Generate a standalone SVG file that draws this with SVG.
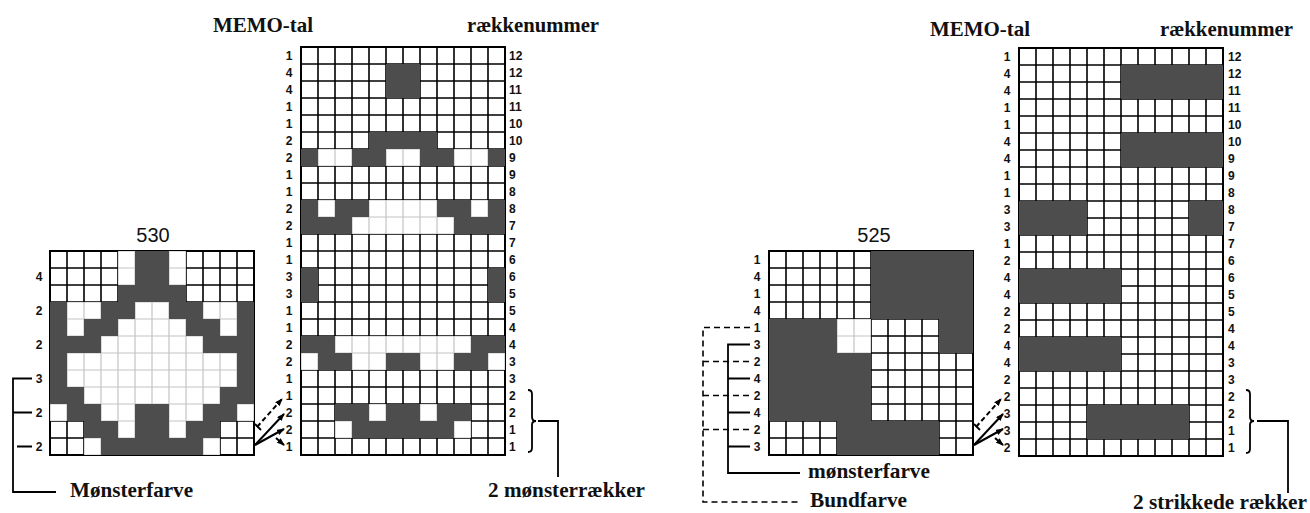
<svg xmlns="http://www.w3.org/2000/svg" width="1310" height="513" viewBox="0 0 1310 513">
<style>
.t{font-family:"Liberation Serif","Times New Roman",serif;font-weight:bold;font-size:21px;fill:#111}
.n{font-family:"Liberation Sans",Arial,sans-serif;font-weight:bold;font-size:12px;fill:#111}
.h{font-family:"Liberation Sans",Arial,sans-serif;font-size:20px;fill:#111}
.dk{fill:#4d4d4d}
.gk{fill:url(#gk)}
.gl{fill:url(#gl)}
.bd{fill:none;stroke:#000;stroke-width:2}
.ln{fill:none;stroke:#000;stroke-width:1.8}
.ds{fill:none;stroke:#000;stroke-width:1.6;stroke-dasharray:6 4}
.ar{fill:none;stroke:#000;stroke-width:2;marker-end:url(#ah)}
.ad{fill:none;stroke:#000;stroke-width:2;stroke-dasharray:5 3;marker-end:url(#ah)}
</style>
<defs>
<pattern id="gk" width="17" height="17" patternUnits="userSpaceOnUse">
<rect width="17" height="17" fill="#fff"/>
<path d="M0 0V17M17 0V17M0 0H17M0 17H17" stroke="#000" stroke-width="1.6" fill="none"/>
</pattern>
<pattern id="gl" width="17" height="17" patternUnits="userSpaceOnUse">
<rect width="17" height="17" fill="#fff"/>
<path d="M0 0V17M17 0V17M0 0H17M0 17H17" stroke="#c4c4c4" stroke-width="1.2" fill="none"/>
</pattern>
<marker id="ah" markerWidth="8" markerHeight="6" refX="7" refY="3" orient="auto" markerUnits="userSpaceOnUse">
<path d="M0 0L8 3L0 6z" fill="#000"/>
</marker>
</defs>
<rect width="1310" height="513" fill="#fff"/>

<g id="titles">
<text class="t" x="213" y="32" textLength="100" lengthAdjust="spacingAndGlyphs">MEMO-tal</text>
<text class="t" x="467" y="32" textLength="132" lengthAdjust="spacingAndGlyphs">rækkenummer</text>
<text class="t" x="930" y="36" textLength="100" lengthAdjust="spacingAndGlyphs">MEMO-tal</text>
<text class="t" x="1160" y="36" textLength="133" lengthAdjust="spacingAndGlyphs">rækkenummer</text>
</g>

<g id="grid-530">
<text class="h" x="153" y="242" text-anchor="middle">530</text>
<g transform="translate(50,251)">
<rect class="gk" width="204" height="204"/>
<rect class="bd" width="204" height="204"/>
<rect class="gl" x="68" y="0" width="68" height="51"/>
<rect class="gl" x="0" y="51" width="204" height="119"/>
<rect class="gl" x="34" y="170" width="136" height="34"/>
<rect class="dk" x="85" y="0" width="34" height="34"/>
<rect class="dk" x="68" y="34" width="68" height="17"/>
<rect class="dk" x="0" y="51" width="17" height="17"/>
<rect class="dk" x="51" y="51" width="34" height="17"/>
<rect class="dk" x="119" y="51" width="34" height="17"/>
<rect class="dk" x="187" y="51" width="17" height="17"/>
<rect class="dk" x="0" y="68" width="17" height="17"/>
<rect class="dk" x="34" y="68" width="34" height="17"/>
<rect class="dk" x="136" y="68" width="34" height="17"/>
<rect class="dk" x="187" y="68" width="17" height="17"/>
<rect class="dk" x="0" y="85" width="51" height="17"/>
<rect class="dk" x="153" y="85" width="51" height="17"/>
<rect class="dk" x="0" y="102" width="17" height="34"/>
<rect class="dk" x="187" y="102" width="17" height="34"/>
<rect class="dk" x="0" y="136" width="34" height="17"/>
<rect class="dk" x="170" y="136" width="34" height="17"/>
<rect class="dk" x="17" y="153" width="34" height="17"/>
<rect class="dk" x="85" y="153" width="34" height="17"/>
<rect class="dk" x="153" y="153" width="34" height="17"/>
<rect class="dk" x="34" y="170" width="34" height="17"/>
<rect class="dk" x="85" y="170" width="34" height="17"/>
<rect class="dk" x="136" y="170" width="34" height="17"/>
<rect class="dk" x="51" y="187" width="102" height="17"/>
</g>
<text class="n" text-anchor="middle"><tspan x="39" y="281">4</tspan><tspan x="39" y="315">2</tspan><tspan x="39" y="349">2</tspan><tspan x="39" y="383">3</tspan><tspan x="39" y="417">2</tspan><tspan x="39" y="451">2</tspan></text>
</g>

<g id="grid-left-main">
<g transform="translate(301,47)">
<rect class="gk" width="204" height="408"/>
<rect class="bd" width="204" height="408"/>
<rect class="gl" x="0" y="102" width="204" height="17"/>
<rect class="gl" x="0" y="153" width="204" height="34"/>
<rect class="gl" x="0" y="289" width="204" height="34"/>
<rect class="gl" x="34" y="357" width="136" height="34"/>
<rect class="dk" x="85" y="17" width="34" height="34"/>
<rect class="dk" x="68" y="85" width="68" height="17"/>
<rect class="dk" x="0" y="102" width="17" height="17"/>
<rect class="dk" x="51" y="102" width="34" height="17"/>
<rect class="dk" x="119" y="102" width="34" height="17"/>
<rect class="dk" x="187" y="102" width="17" height="17"/>
<rect class="dk" x="0" y="153" width="17" height="17"/>
<rect class="dk" x="34" y="153" width="34" height="17"/>
<rect class="dk" x="136" y="153" width="34" height="17"/>
<rect class="dk" x="187" y="153" width="17" height="17"/>
<rect class="dk" x="0" y="170" width="51" height="17"/>
<rect class="dk" x="153" y="170" width="51" height="17"/>
<rect class="dk" x="0" y="221" width="17" height="34"/>
<rect class="dk" x="187" y="221" width="17" height="34"/>
<rect class="dk" x="0" y="289" width="34" height="17"/>
<rect class="dk" x="170" y="289" width="34" height="17"/>
<rect class="dk" x="17" y="306" width="34" height="17"/>
<rect class="dk" x="85" y="306" width="34" height="17"/>
<rect class="dk" x="153" y="306" width="34" height="17"/>
<rect class="dk" x="34" y="357" width="34" height="17"/>
<rect class="dk" x="85" y="357" width="34" height="17"/>
<rect class="dk" x="136" y="357" width="34" height="17"/>
<rect class="dk" x="51" y="374" width="102" height="17"/>
</g>
<text class="n" text-anchor="middle"><tspan x="289" y="60">1</tspan><tspan x="289" y="77">4</tspan><tspan x="289" y="94">4</tspan><tspan x="289" y="111">1</tspan><tspan x="289" y="128">1</tspan><tspan x="289" y="145">2</tspan><tspan x="289" y="162">2</tspan><tspan x="289" y="179">1</tspan><tspan x="289" y="196">1</tspan><tspan x="289" y="213">2</tspan><tspan x="289" y="230">2</tspan><tspan x="289" y="247">1</tspan><tspan x="289" y="264">1</tspan><tspan x="289" y="281">3</tspan><tspan x="289" y="298">3</tspan><tspan x="289" y="315">1</tspan><tspan x="289" y="332">1</tspan><tspan x="289" y="349">2</tspan><tspan x="289" y="366">2</tspan><tspan x="289" y="383">1</tspan><tspan x="289" y="400">1</tspan><tspan x="289" y="417">2</tspan><tspan x="289" y="434">2</tspan><tspan x="289" y="451">1</tspan></text>
<text class="n"><tspan x="509" y="60">12</tspan><tspan x="509" y="77">12</tspan><tspan x="509" y="94">11</tspan><tspan x="509" y="111">11</tspan><tspan x="509" y="128">10</tspan><tspan x="509" y="145">10</tspan><tspan x="509" y="162">9</tspan><tspan x="509" y="179">9</tspan><tspan x="509" y="196">8</tspan><tspan x="509" y="213">8</tspan><tspan x="509" y="230">7</tspan><tspan x="509" y="247">7</tspan><tspan x="509" y="264">6</tspan><tspan x="509" y="281">6</tspan><tspan x="509" y="298">5</tspan><tspan x="509" y="315">5</tspan><tspan x="509" y="332">4</tspan><tspan x="509" y="349">4</tspan><tspan x="509" y="366">3</tspan><tspan x="509" y="383">3</tspan><tspan x="509" y="400">2</tspan><tspan x="509" y="417">2</tspan><tspan x="509" y="434">1</tspan><tspan x="509" y="451">1</tspan></text>
</g>

<g id="grid-525">
<text class="h" x="874" y="242" text-anchor="middle">525</text>
<g transform="translate(769,251)">
<rect class="gk" width="204" height="204"/>
<rect class="bd" width="204" height="204"/>
<rect class="gl" x="0" y="68" width="102" height="34"/>
<rect class="dk" x="102" y="0" width="102" height="68"/>
<rect class="dk" x="0" y="68" width="68" height="34"/>
<rect class="dk" x="170" y="68" width="34" height="34"/>
<rect class="dk" x="0" y="102" width="102" height="68"/>
<rect class="dk" x="68" y="170" width="102" height="34"/>
</g>
<text class="n" text-anchor="middle"><tspan x="757" y="264">1</tspan><tspan x="757" y="281">4</tspan><tspan x="757" y="298">1</tspan><tspan x="757" y="315">4</tspan><tspan x="757" y="332">1</tspan><tspan x="757" y="349">3</tspan><tspan x="757" y="366">2</tspan><tspan x="757" y="383">4</tspan><tspan x="757" y="400">2</tspan><tspan x="757" y="417">4</tspan><tspan x="757" y="434">2</tspan><tspan x="757" y="451">3</tspan></text>
</g>

<g id="grid-right-main">
<g transform="translate(1019,48)">
<rect class="gk" width="204" height="408"/>
<rect class="bd" width="204" height="408"/>
<rect class="dk" x="102" y="17" width="102" height="34"/>
<rect class="dk" x="102" y="85" width="102" height="34"/>
<rect class="dk" x="0" y="153" width="68" height="34"/>
<rect class="dk" x="170" y="153" width="34" height="34"/>
<rect class="dk" x="0" y="221" width="102" height="34"/>
<rect class="dk" x="0" y="289" width="102" height="34"/>
<rect class="dk" x="68" y="357" width="102" height="34"/>
</g>
<text class="n" text-anchor="middle"><tspan x="1007" y="61">1</tspan><tspan x="1007" y="78">4</tspan><tspan x="1007" y="95">4</tspan><tspan x="1007" y="112">1</tspan><tspan x="1007" y="129">1</tspan><tspan x="1007" y="146">4</tspan><tspan x="1007" y="163">4</tspan><tspan x="1007" y="180">1</tspan><tspan x="1007" y="197">1</tspan><tspan x="1007" y="214">3</tspan><tspan x="1007" y="231">3</tspan><tspan x="1007" y="248">1</tspan><tspan x="1007" y="265">2</tspan><tspan x="1007" y="282">4</tspan><tspan x="1007" y="299">4</tspan><tspan x="1007" y="316">2</tspan><tspan x="1007" y="333">2</tspan><tspan x="1007" y="350">4</tspan><tspan x="1007" y="367">4</tspan><tspan x="1007" y="384">2</tspan><tspan x="1007" y="401">2</tspan><tspan x="1007" y="418">3</tspan><tspan x="1007" y="435">3</tspan><tspan x="1007" y="452">2</tspan></text>
<text class="n"><tspan x="1228" y="61">12</tspan><tspan x="1228" y="78">12</tspan><tspan x="1228" y="95">11</tspan><tspan x="1228" y="112">11</tspan><tspan x="1228" y="129">10</tspan><tspan x="1228" y="146">10</tspan><tspan x="1228" y="163">9</tspan><tspan x="1228" y="180">9</tspan><tspan x="1228" y="197">8</tspan><tspan x="1228" y="214">8</tspan><tspan x="1228" y="231">7</tspan><tspan x="1228" y="248">7</tspan><tspan x="1228" y="265">6</tspan><tspan x="1228" y="282">6</tspan><tspan x="1228" y="299">5</tspan><tspan x="1228" y="316">5</tspan><tspan x="1228" y="333">4</tspan><tspan x="1228" y="350">4</tspan><tspan x="1228" y="367">3</tspan><tspan x="1228" y="384">3</tspan><tspan x="1228" y="401">2</tspan><tspan x="1228" y="418">2</tspan><tspan x="1228" y="435">1</tspan><tspan x="1228" y="452">1</tspan></text>
</g>

<g id="captions">
<text class="t" x="70" y="497" textLength="123" lengthAdjust="spacingAndGlyphs">Mønsterfarve</text>
<text class="t" x="488" y="497" textLength="157" lengthAdjust="spacingAndGlyphs">2 mønsterrækker</text>
<text class="t" x="808" y="478" textLength="122" lengthAdjust="spacingAndGlyphs">mønsterfarve</text>
<text class="t" x="810" y="507" textLength="97" lengthAdjust="spacingAndGlyphs">Bundfarve</text>
<text class="t" x="1133" y="509" textLength="174" lengthAdjust="spacingAndGlyphs">2 strikkede rækker</text>
</g>

<g id="connectors">
<path class="ln" d="M32 378.5H13V492H56M13 412.5H32M17 446.5H32"/>
<path class="ad" d="M257 427L282 399"/>
<path class="ln" d="M255 424L261 430"/>
<path class="ar" d="M255 445L284 414"/>
<path class="ar" d="M255 445L284 429"/>
<path class="ar" d="M276 438L284 445"/>
<path class="ln" d="M528 390Q532 390 532 394V417Q532 421 536 421Q532 421 532 425V448Q532 452 528 452"/>
<path class="ln" d="M538 421H558V477"/>
<path class="ds" d="M750 327.5H703V502H798M703 361.5H750M703 395.5H750M703 429.5H750"/>
<path class="ln" d="M750 344.5H728V473H800M728 378.5H750M728 412.5H750M728 446.5H750"/>
<path class="ad" d="M976 427L1001 399"/>
<path class="ln" d="M974 424L980 430"/>
<path class="ar" d="M974 445L1003 414"/>
<path class="ar" d="M974 445L1003 429"/>
<path class="ar" d="M995 438L1003 445"/>
<path class="ln" d="M1246 390Q1250 390 1250 394V417Q1250 421 1254 421Q1250 421 1250 425V449Q1250 453 1246 453"/>
<path class="ln" d="M1257 421H1288V493"/>
</g>
</svg>
